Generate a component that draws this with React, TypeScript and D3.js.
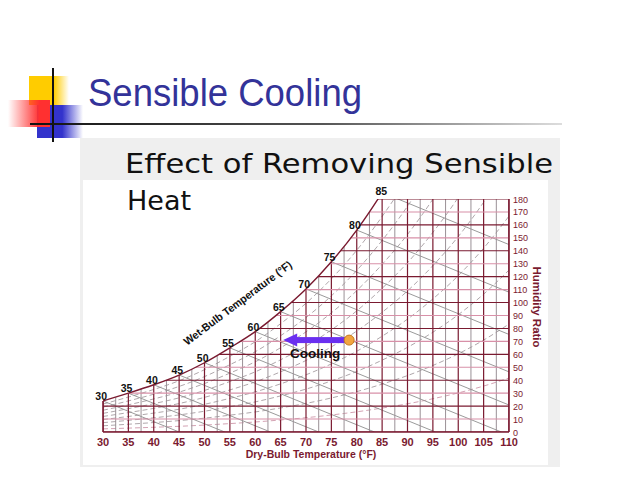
import React, { useRef, useEffect } from 'react';
import * as d3 from 'd3';

// saturation humidity ratio (grains / lb dry air) per dry-bulb temperature (°F)
const SAT_TEMPS = [30, 35, 40, 45, 50, 55, 60, 65, 70, 75, 80, 85, 90, 95, 100, 105, 110];
const SAT_GRAINS = [24, 30, 36.5, 44, 53.5, 65, 77.5, 93, 110.5, 131.5, 156, 185, 218, 257, 302, 355, 417];

// wet-bulb lines: label temperature and dry-bulb where the line reaches 0 grains
const WET_BULB = [30, 35, 40, 45, 50, 55, 60, 65, 70, 75, 80, 85];
const WET_BULB_ZERO = [45, 54, 63, 72.5, 83.5, 95.5, 108.5, 123, 139, 157, 177.5, 200];

const RH_LINES = [10, 20, 30, 40, 50, 60, 70, 80, 90];

const DRY_BULB_TICKS = [30, 35, 40, 45, 50, 55, 60, 65, 70, 75, 80, 85, 90, 95, 100, 105, 110];
const HUMIDITY_TICKS = [0, 10, 20, 30, 40, 50, 60, 70, 80, 90, 100, 110, 120, 130, 140, 150, 160, 170, 180];

// sensible cooling process: state point and end temperature
const COOLING_START = 78.5;
const COOLING_END = 65.5;
const COOLING_GRAINS = 71;

const MAROON = '#7a1a30';
const PINK = '#d890a8';
const GRAYLINE = '#9a9096';

const satAt = (t: number) => {
    const i = SAT_TEMPS.findIndex((v) => v === t);
    return SAT_GRAINS[i];
};

const App: React.FC = () => {
    const svgRef = useRef<SVGSVGElement | null>(null);

    useEffect(() => {
        if (!svgRef.current) return;
        const svg = d3.select(svgRef.current);
        svg.selectAll('*').remove();

        const width = 638, height = 478;
        svg.attr('width', width).attr('height', height);

        const defs = svg.append('defs');

        // ---- slide decoration ----
        const g1 = defs.append('linearGradient').attr('id', 'ruleGrad');
        g1.append('stop').attr('offset', '0%').attr('stop-color', '#111');
        g1.append('stop').attr('offset', '55%').attr('stop-color', '#555');
        g1.append('stop').attr('offset', '100%').attr('stop-color', '#ddd');

        const g2 = defs.append('linearGradient').attr('id', 'redGrad');
        g2.append('stop').attr('offset', '0%').attr('stop-color', '#ff3030').attr('stop-opacity', 0);
        g2.append('stop').attr('offset', '75%').attr('stop-color', '#ff3030').attr('stop-opacity', 1);

        const g3 = defs.append('linearGradient').attr('id', 'blueGrad');
        g3.append('stop').attr('offset', '0%').attr('stop-color', '#3333cc');
        g3.append('stop').attr('offset', '55%').attr('stop-color', '#3333cc');
        g3.append('stop').attr('offset', '100%').attr('stop-color', '#3333cc').attr('stop-opacity', 0);

        const g4 = defs.append('linearGradient').attr('id', 'yellowGrad');
        g4.append('stop').attr('offset', '0%').attr('stop-color', '#ffcc00');
        g4.append('stop').attr('offset', '62%').attr('stop-color', '#ffcc00');
        g4.append('stop').attr('offset', '100%').attr('stop-color', '#ffcc00').attr('stop-opacity', 0);

        svg.append('rect').attr('width', width).attr('height', height).attr('fill', '#fff');
        svg.append('rect').attr('x', 29).attr('y', 76).attr('width', 40).attr('height', 29).attr('fill', 'url(#yellowGrad)');
        svg.append('rect').attr('x', 37).attr('y', 105).attr('width', 46).attr('height', 33).attr('fill', 'url(#blueGrad)');
        svg.append('rect').attr('x', 8).attr('y', 100).attr('width', 42).attr('height', 27).attr('fill', 'url(#redGrad)');
        svg.append('rect').attr('x', 52).attr('y', 68).attr('width', 2).attr('height', 74).attr('fill', '#111');
        svg.append('rect').attr('x', 30).attr('y', 123).attr('width', 532).attr('height', 2).attr('fill', 'url(#ruleGrad)');

        svg.append('text')
            .attr('x', 88).attr('y', 106)
            .attr('font-family', 'Liberation Sans, Arial, sans-serif')
            .attr('font-size', 38)
            .attr('textLength', 274).attr('lengthAdjust', 'spacingAndGlyphs')
            .attr('fill', '#333399')
            .text('Sensible Cooling');

        // content panel
        svg.append('rect').attr('x', 80).attr('y', 138).attr('width', 480).attr('height', 329).attr('fill', '#efefef');
        svg.append('rect').attr('x', 83).attr('y', 180).attr('width', 465).attr('height', 285).attr('fill', '#fff');

        svg.append('text')
            .attr('x', 125).attr('y', 173)
            .attr('font-family', 'DejaVu Sans, Verdana, sans-serif')
            .attr('font-size', 27)
            .attr('textLength', 428).attr('lengthAdjust', 'spacingAndGlyphs')
            .attr('fill', '#111')
            .text('Effect of Removing Sensible');
        svg.append('text')
            .attr('x', 127).attr('y', 210)
            .attr('font-family', 'DejaVu Sans, Verdana, sans-serif')
            .attr('font-size', 27)
            .attr('fill', '#111')
            .text('Heat');

        // ---- psychrometric chart ----
        const x = d3.scaleLinear().domain([30, 110]).range([103, 509]);
        const y = d3.scaleLinear().domain([0, 180]).range([432, 199]);

        const satPts: [number, number][] = SAT_TEMPS.map((t, i) => [t, SAT_GRAINS[i]]);

        const satLine = d3.line<[number, number]>()
            .x((d) => x(d[0])).y((d) => y(d[1]))
            .curve(d3.curveMonotoneX);
        const satArea = d3.area<[number, number]>()
            .x((d) => x(d[0])).y0(y(0)).y1((d) => y(d[1]))
            .curve(d3.curveMonotoneX);

        defs.append('clipPath').attr('id', 'plotRect')
            .append('rect').attr('x', x(30)).attr('y', y(180))
            .attr('width', x(110) - x(30)).attr('height', y(0) - y(180));
        defs.append('clipPath').attr('id', 'underSat')
            .append('path').attr('d', satArea(satPts) as string);

        const outer = svg.append('g').attr('clip-path', 'url(#plotRect)');
        const inner = outer.append('g').attr('clip-path', 'url(#underSat)');

        // relative humidity curves (dashed)
        RH_LINES.forEach((rh) => {
            inner.append('path')
                .attr('d', satLine(satPts.map((p) => [p[0], (p[1] * rh) / 100] as [number, number])) as string)
                .attr('fill', 'none')
                .attr('stroke', rh === 10 ? '#c88aa0' : GRAYLINE)
                .attr('stroke-width', 0.8)
                .attr('stroke-dasharray', '5,3');
        });

        // wet-bulb lines
        WET_BULB.forEach((tw, i) => {
            inner.append('line')
                .attr('x1', x(tw)).attr('y1', y(satAt(tw)))
                .attr('x2', x(WET_BULB_ZERO[i])).attr('y2', y(0))
                .attr('stroke', '#8f8f8f')
                .attr('stroke-width', 0.9);
        });

        // vertical dry-bulb grid every 2.5 °F
        d3.range(30, 110.1, 2.5).forEach((t) => {
            inner.append('line')
                .attr('x1', x(t)).attr('x2', x(t))
                .attr('y1', y(0)).attr('y2', y(180))
                .attr('stroke', t % 5 === 0 ? MAROON : GRAYLINE)
                .attr('stroke-width', t % 5 === 0 ? 1.2 : 1);
        });

        // horizontal humidity grid every 10 grains
        HUMIDITY_TICKS.forEach((w) => {
            inner.append('line')
                .attr('x1', x(30)).attr('x2', x(110))
                .attr('y1', y(w)).attr('y2', y(w))
                .attr('stroke', w % 20 === 0 ? MAROON : PINK)
                .attr('stroke-width', 1.1);
        });

        // frame: saturation curve, right and bottom edges
        outer.append('path')
            .attr('d', satLine(satPts) as string)
            .attr('fill', 'none').attr('stroke', MAROON).attr('stroke-width', 1.4);
        svg.append('line')
            .attr('x1', x(110)).attr('x2', x(110)).attr('y1', y(0)).attr('y2', y(180))
            .attr('stroke', MAROON).attr('stroke-width', 1.6);
        svg.append('line')
            .attr('x1', x(30)).attr('x2', x(110)).attr('y1', y(0)).attr('y2', y(0))
            .attr('stroke', MAROON).attr('stroke-width', 1.6);
        svg.append('line')
            .attr('x1', x(30)).attr('x2', x(30)).attr('y1', y(0)).attr('y2', y(satAt(30)))
            .attr('stroke', MAROON).attr('stroke-width', 1.6);

        // wet-bulb labels along saturation curve
        svg.append('g').selectAll('text')
            .data(WET_BULB)
            .join('text')
            .attr('x', (t) => (t === 85 ? x(84.6) + 7 : x(t) + 4))
            .attr('y', (t) => (t === 85 ? y(180) - 4 : y(satAt(t)) - 1))
            .attr('text-anchor', 'end')
            .attr('font-family', 'Liberation Sans, Arial, sans-serif')
            .attr('font-size', 10.5).attr('font-weight', 'bold')
            .attr('fill', '#111')
            .text((t) => t);

        svg.append('text')
            .attr('transform', 'translate(240,306) rotate(-37)')
            .attr('text-anchor', 'middle')
            .attr('font-family', 'Liberation Sans, Arial, sans-serif')
            .attr('font-size', 11).attr('font-weight', 'bold')
            .attr('textLength', 132).attr('lengthAdjust', 'spacingAndGlyphs')
            .attr('fill', '#111')
            .text('Wet-Bulb Temperature (°F)');

        // dry-bulb axis labels
        svg.append('g').selectAll('text')
            .data(DRY_BULB_TICKS)
            .join('text')
            .attr('x', (t) => x(t)).attr('y', 446)
            .attr('text-anchor', 'middle')
            .attr('font-family', 'Liberation Sans, Arial, sans-serif')
            .attr('font-size', 11).attr('font-weight', 'bold')
            .attr('fill', MAROON)
            .text((t) => t);
        svg.append('text')
            .attr('x', 311).attr('y', 458)
            .attr('text-anchor', 'middle')
            .attr('font-family', 'Liberation Sans, Arial, sans-serif')
            .attr('font-size', 10.5).attr('font-weight', 'bold')
            .attr('fill', MAROON)
            .text('Dry-Bulb Temperature (°F)');

        // humidity ratio axis labels
        svg.append('g').selectAll('text')
            .data(HUMIDITY_TICKS)
            .join('text')
            .attr('x', 513).attr('y', (w) => y(w) + 3.5)
            .attr('font-family', 'Liberation Sans, Arial, sans-serif')
            .attr('font-size', 9)
            .attr('fill', MAROON)
            .text((w) => w);
        svg.append('text')
            .attr('transform', 'translate(533,307) rotate(90)')
            .attr('text-anchor', 'middle')
            .attr('font-family', 'Liberation Sans, Arial, sans-serif')
            .attr('font-size', 11.5).attr('font-weight', 'bold')
            .attr('fill', MAROON)
            .text('Humidity Ratio');

        // cooling process arrow
        const ay = y(COOLING_GRAINS);
        const tipX = x(COOLING_END);
        svg.append('rect')
            .attr('x', tipX + 12).attr('y', ay - 3)
            .attr('width', x(COOLING_START) - tipX - 12).attr('height', 6)
            .attr('fill', '#6a2ff0');
        svg.append('path')
            .attr('d', `M${tipX},${ay} L${tipX + 14},${ay - 6.5} L${tipX + 14},${ay + 6.5} Z`)
            .attr('fill', '#6a2ff0');
        svg.append('circle')
            .attr('cx', x(COOLING_START)).attr('cy', ay).attr('r', 5)
            .attr('fill', '#f2a540').attr('stroke', '#c47a20').attr('stroke-width', 1);
        svg.append('text')
            .attr('x', 290).attr('y', ay + 18)
            .attr('font-family', 'Liberation Sans, Arial, sans-serif')
            .attr('font-size', 13.5).attr('font-weight', 'bold')
            .attr('fill', '#111')
            .text('Cooling');
    }, []);

    return (
        <div style={{ position: 'fixed', left: 0, top: 0 }}>
            <svg ref={svgRef}></svg>
        </div>
    );
};

export default App;
